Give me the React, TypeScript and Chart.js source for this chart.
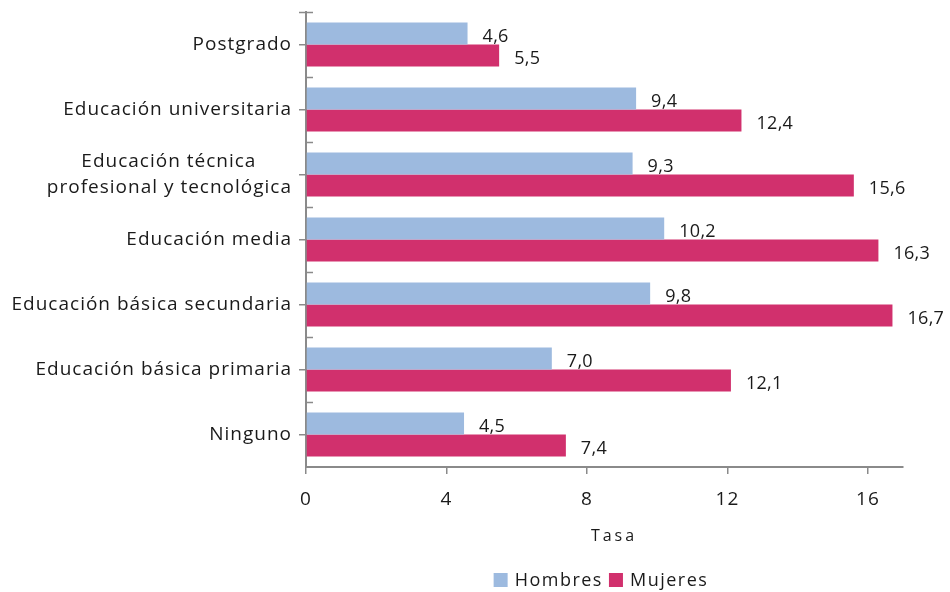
import { useEffect, useRef } from "react";
import { Chart, registerables } from "chart.js";

Chart.register(...registerables);

const categories: (string | string[])[] = [
  "Postgrado",
  "Educación universitaria",
  ["Educación técnica", "profesional y tecnológica"],
  "Educación media",
  "Educación básica secundaria",
  "Educación básica primaria",
  "Ninguno",
];
const hombres = [4.6, 9.4, 9.3, 10.2, 9.8, 7.0, 4.5];
const mujeres = [5.5, 12.4, 15.6, 16.3, 16.7, 12.1, 7.4];
const xTicks = [0, 4, 8, 12, 16];
const seriesNames = ["Hombres", "Mujeres"];
const axisTitle = "Tasa";

const COLORS = ["#9DBADF", "#D1306D"];
const AXIS = "#8a8a8a";
const TEXT = "#1a1a1a";
const FONT = "'Open Sans', sans-serif";
const LABEL_SIZE = 19;
const SPACING = "1px";

function centeredLines(label: string | string[]): string | string[] {
  if (!Array.isArray(label)) return label;
  const c = document.createElement("canvas").getContext("2d")!;
  c.font = `${LABEL_SIZE}px ${FONT}`;
  (c as any).letterSpacing = SPACING;
  const widths = label.map((l) => c.measureText(l).width);
  const maxW = Math.max(...widths);
  const sp = c.measureText(" ").width;
  return label.map((l, i) => l + " ".repeat(Math.round((maxW - widths[i]) / 2 / sp)));
}

const setSpacing = (chart: any) => {
  (chart.ctx as any).letterSpacing = SPACING;
};

const extras = {
  id: "extras",
  beforeUpdate: setSpacing,
  beforeLayout: setSpacing,
  beforeDraw: setSpacing,
  afterDraw(chart: any) {
    const { ctx, chartArea, scales } = chart;
    ctx.save();
    // data labels
    ctx.font = `18px ${FONT}`;
    (ctx as any).letterSpacing = "0.3px";
    ctx.fillStyle = TEXT;
    ctx.textAlign = "left";
    ctx.textBaseline = "middle";
    chart.data.datasets.forEach((ds: any, i: number) => {
      const meta = chart.getDatasetMeta(i);
      meta.data.forEach((el: any, j: number) => {
        const v = ds.data[j] as number;
        ctx.fillText(v.toFixed(1).replace(".", ","), el.x + 15, el.y + 3);
      });
    });
    // category boundary ticks (inside)
    const y = scales.y;
    const n = y.ticks.length;
    const step = (y.bottom - y.top) / n;
    ctx.strokeStyle = AXIS;
    ctx.lineWidth = 1.5;
    for (let k = 0; k < n; k++) {
      const yy = Math.round(y.top + k * step) + 0.5;
      ctx.beginPath();
      ctx.moveTo(chartArea.left - (k === 0 ? 7 : 0), yy);
      ctx.lineTo(chartArea.left + 7, yy);
      ctx.stroke();
    }
    // axis title
    ctx.font = `16px ${FONT}`;
    (ctx as any).letterSpacing = "3px";
    ctx.textAlign = "center";
    ctx.fillText(axisTitle, 614, 536);
    // legend
    ctx.font = `18px ${FONT}`;
    (ctx as any).letterSpacing = "1.5px";
    const w = seriesNames.map((s) => ctx.measureText(s).width);
    const total = 14 + 7 + w[0] + 6 + 14 + 7 + w[1];
    let x = 601 - total / 2;
    const ly = 580;
    ctx.textAlign = "left";
    seriesNames.forEach((s, i) => {
      ctx.fillStyle = COLORS[i];
      ctx.fillRect(x, ly - 7, 14, 14);
      x += 14 + 7;
      ctx.fillStyle = TEXT;
      ctx.fillText(s, x, ly + 1);
      x += w[i] + 6;
    });
    ctx.restore();
  },
};

export default function App() {
  const ref = useRef<HTMLCanvasElement>(null);
  useEffect(() => {
    const labels = categories.map(centeredLines);
    const chart = new Chart(ref.current!, {
      type: "bar",
      data: {
        labels,
        datasets: [
          { label: seriesNames[0], data: hombres, backgroundColor: COLORS[0] },
          { label: seriesNames[1], data: mujeres, backgroundColor: COLORS[1] },
        ],
      },
      options: {
        indexAxis: "y",
        animation: false,
        responsive: false,
        maintainAspectRatio: false,
        datasets: { bar: { categoryPercentage: 0.68, barPercentage: 1 } },
        layout: { padding: { top: 12, right: 47, left: 0, bottom: 0 } },
        plugins: { legend: { display: false }, tooltip: { enabled: false } },
        scales: {
          x: {
            min: 0,
            max: 17,
            afterBuildTicks: (s: any) => {
              s.ticks = xTicks.map((v) => ({ value: v }));
            },
            afterFit: (s: any) => {
              s.height = 125;
              s.paddingLeft = 0;
              s.paddingRight = 0;
              s.paddingTop = 0;
              s.paddingBottom = 0;
            },
            ticks: { font: { family: FONT, size: 19 }, color: TEXT, padding: 14 },
            grid: { drawOnChartArea: false, drawTicks: true, tickLength: 7, color: AXIS, lineWidth: 1.5 },
            border: { display: true, color: AXIS, width: 2 },
          },
          y: {
            afterFit: (s: any) => {
              s.width = 306;
              s.paddingLeft = 0;
              s.paddingRight = 0;
              s.paddingTop = 0;
              s.paddingBottom = 0;
            },
            ticks: {
              font: { family: FONT, size: LABEL_SIZE, lineHeight: 1.4 },
              color: TEXT,
              padding: 7,
              autoSkip: false,
            },
            grid: { offset: false, drawOnChartArea: false, drawTicks: true, tickLength: 7, color: AXIS, lineWidth: 1.5 },
            border: { display: true, color: AXIS, width: 2 },
          },
        },
      },
      plugins: [extras],
    });
    return () => chart.destroy();
  }, []);
  return (
    <div style={{ position: "fixed", left: 0, top: 0, width: 950, height: 592, background: "#fff" }}>
      <canvas ref={ref} width={950} height={592} />
    </div>
  );
}
